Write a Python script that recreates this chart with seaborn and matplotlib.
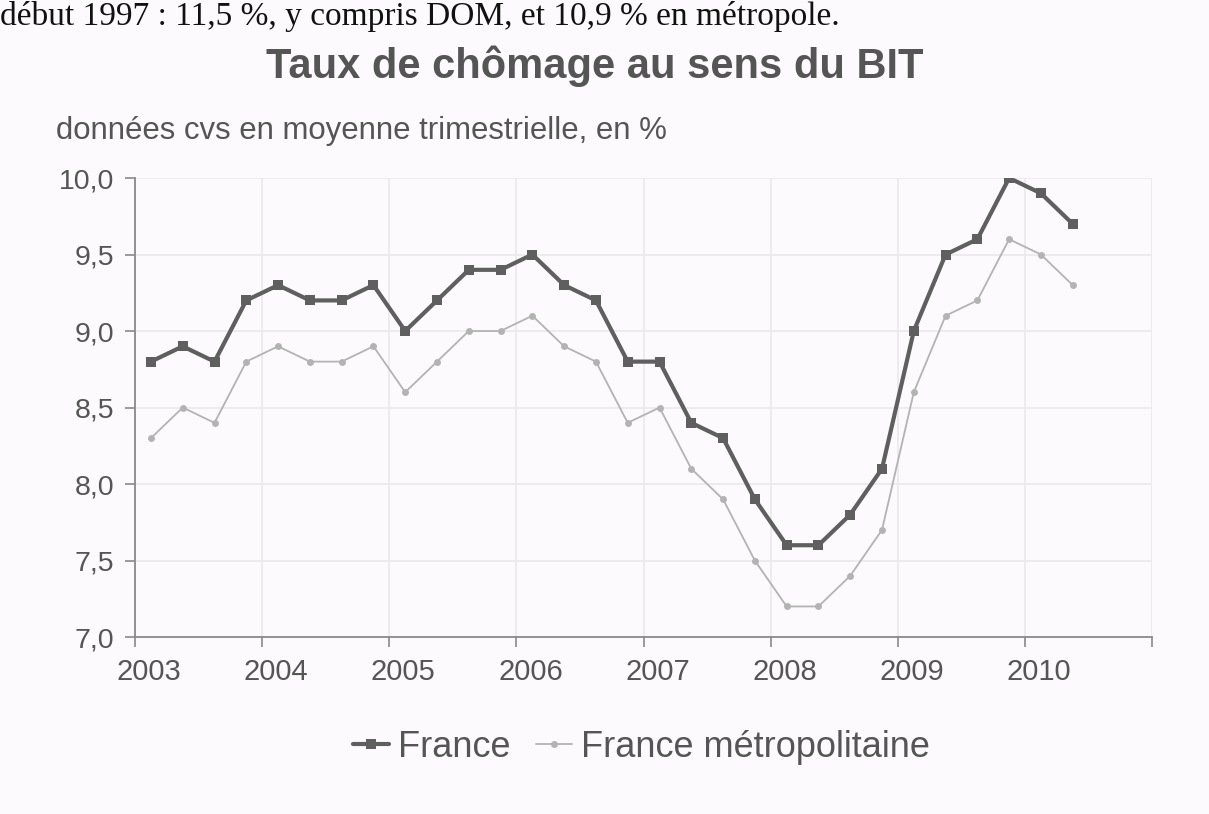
import pandas as pd
import matplotlib.pyplot as plt
import matplotlib.transforms as mtransforms
import seaborn as sns
from matplotlib.ticker import FuncFormatter

# quarterly averages, 2003 Q1 -> 2010 Q2
quarters = [(y, q) for y in range(2003, 2011) for q in range(1, 5)][:30]
france = [8.8, 8.9, 8.8, 9.2, 9.3, 9.2, 9.2, 9.3, 9.0, 9.2, 9.4, 9.4, 9.5, 9.3, 9.2,
          8.8, 8.8, 8.4, 8.3, 7.9, 7.6, 7.6, 7.8, 8.1, 9.0, 9.5, 9.6, 10.0, 9.9, 9.7]
metro = [8.3, 8.5, 8.4, 8.8, 8.9, 8.8, 8.8, 8.9, 8.6, 8.8, 9.0, 9.0, 9.1, 8.9, 8.8,
         8.4, 8.5, 8.1, 7.9, 7.5, 7.2, 7.2, 7.4, 7.7, 8.6, 9.1, 9.2, 9.6, 9.5, 9.3]
years = list(range(2003, 2011))
y_ticks = [7.0, 7.5, 8.0, 8.5, 9.0, 9.5, 10.0]

title = "Taux de chômage au sens du BIT"
subtitle = "données cvs en moyenne trimestrielle, en %"
header_line = "début 1997 : 11,5 %, y compris DOM, et 10,9 % en métropole."

sns.set_theme(style="white")
plt.rcParams['font.family'] = ['Liberation Sans', 'DejaVu Sans']

bg = "#fdfafd"
fig = plt.figure(figsize=(12.09, 8.14), dpi=100, facecolor=bg)
ax = fig.add_axes([0.1117, 0.2174, 0.8413, 0.5639], facecolor=bg)

# each quarter plotted at its middle on a year scale
xpos = [y + (q - 0.5) / 4 for y, q in quarters]
df = pd.DataFrame({"x": xpos, "France": france, "France métropolitaine": metro})

sns.lineplot(data=df, x="x", y="France", ax=ax, color="#5f5f5f", lw=3,
             marker="s", markersize=7, markeredgewidth=0, label="France")
sns.lineplot(data=df, x="x", y="France métropolitaine", ax=ax, color="#b3b3b3", lw=1.3,
             marker="o", markersize=5, markeredgewidth=0, label="France métropolitaine")

ax.set_xlim(2003, 2011)
ax.set_ylim(7.0, 10.0)
ax.set_xticks(years + [2011])
ax.set_xticklabels([str(y) for y in years] + [""])
ax.set_yticks(y_ticks)
ax.yaxis.set_major_formatter(FuncFormatter(lambda v, p: f"{v:.1f}".replace(".", ",")))
ax.grid(True, color="#ece8ec", lw=1.2)
ax.set_xlabel("")
ax.set_ylabel("")

for s in ["top", "right"]:
    ax.spines[s].set_visible(False)
for s in ["left", "bottom"]:
    ax.spines[s].set_color("#8a8a8a")
    ax.spines[s].set_linewidth(1.3)
ax.tick_params(axis="both", which="both", direction="out", length=7, width=1.2,
               color="#8a8a8a", labelcolor="#555555", pad=8, bottom=True, left=True)
ax.tick_params(axis="y", labelsize=20.5)
ax.tick_params(axis="x", labelsize=21)

# year labels sit slightly right of their ticks in the original
shift = mtransforms.ScaledTranslation(14 / 100, 0, fig.dpi_scale_trans)
for lab in ax.get_xticklabels():
    lab.set_transform(lab.get_transform() + shift)

fig.text(0.492, 0.919, title, ha="center", va="center", fontsize=30,
         fontweight="bold", color="#555555")
fig.text(0.046, 0.839, subtitle, ha="left", va="center", fontsize=22.4, color="#555555")
fig.text(0.0, 0.999, header_line, ha="left", va="top", fontsize=24,
         family=["Liberation Serif", "DejaVu Serif"], color="#111111")

leg = ax.legend(loc="center", bbox_to_anchor=(0.4975, -0.24), ncol=2, frameon=False,
                fontsize=26, handlelength=1.0, columnspacing=0.7, handletextpad=0.25)
for t in leg.get_texts():
    t.set_color("#555555")

fig.savefig("out.png", dpi=100, facecolor=bg)
